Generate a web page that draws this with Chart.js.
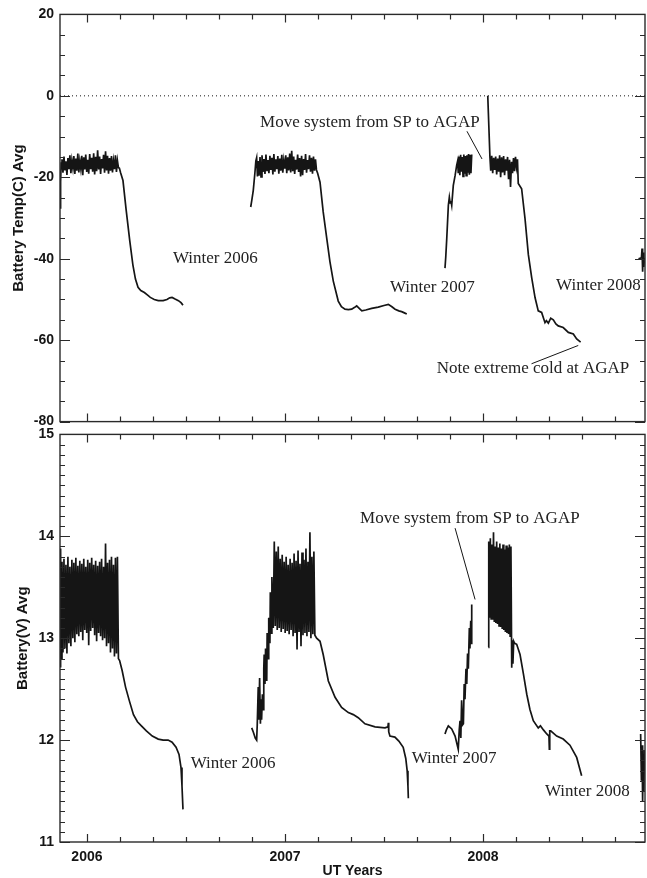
<!DOCTYPE html>
<html>
<head>
<meta charset="utf-8">
<script src="https://cdn.jsdelivr.net/npm/chart.js@4.4.1/dist/chart.umd.min.js"></script>
<style>
  body { margin: 0; background: #fff; }
  #wrap { position: relative; width: 647px; height: 878px; }
  #tempCanvas { position: absolute; left: 0; top: 0; }
  #voltCanvas { position: absolute; left: 0; top: 420px; }
</style>
</head>
<body>
<div id="wrap">
  <canvas id="tempCanvas" width="647" height="436"></canvas>
  <canvas id="voltCanvas" width="647" height="458"></canvas>
</div>
<script>
// x axis range in decimal UT years
const xMin = 2005.864;
const xMax = 2008.818;
const yearTicks = [2006, 2007, 2008];

// Battery temperature (C), one array per season, [year, value]
const tempSeason2006 = [
  [2005.864,-27.5],[2005.867,-21.0],[2005.870,-16.5],
  [2005.874,-15.6],[2005.879,-18.9],[2005.884,-14.9],[2005.889,-18.3],[2005.894,-16.1],[2005.899,-19.4],
  [2005.904,-15.3],[2005.909,-18.0],[2005.914,-14.6],[2005.919,-19.0],[2005.924,-15.9],[2005.929,-17.7],
  [2005.934,-14.8],[2005.939,-19.2],[2005.944,-15.4],[2005.949,-18.4],[2005.954,-14.2],[2005.959,-18.8],
  [2005.964,-16.0],[2005.969,-17.9],[2005.974,-14.7],[2005.979,-19.5],[2005.984,-15.1],[2005.989,-18.1],
  [2005.994,-14.4],[2005.999,-18.7],[2006.004,-15.7],[2006.009,-19.1],[2006.014,-14.3],[2006.019,-18.0],
  [2006.024,-15.2],[2006.029,-18.6],[2006.034,-14.1],[2006.039,-19.3],[2006.044,-15.0],[2006.049,-18.5],
  [2006.054,-13.4],[2006.059,-18.1],[2006.064,-14.9],[2006.069,-19.2],[2006.074,-15.5],[2006.079,-17.8],
  [2006.084,-14.5],[2006.089,-18.9],[2006.094,-13.6],[2006.099,-18.3],[2006.104,-14.7],[2006.109,-19.1],
  [2006.114,-15.3],[2006.119,-18.4],[2006.124,-14.8],[2006.129,-18.8],[2006.134,-16.0],[2006.139,-18.0],
  [2006.144,-14.6],[2006.149,-18.7],[2006.154,-15.9],[2006.159,-17.6],
  [2006.164,-17.8],[2006.170,-18.9],[2006.182,-20.8],[2006.198,-28.0],[2006.216,-35.5],[2006.232,-41.5],
  [2006.245,-45.0],[2006.258,-47.0],[2006.272,-47.8],[2006.290,-48.3],[2006.305,-48.9],[2006.320,-49.5],
  [2006.340,-50.0],[2006.360,-50.3],[2006.385,-50.3],[2006.404,-50.0],[2006.418,-49.6],[2006.430,-49.5],
  [2006.445,-49.9],[2006.462,-50.3],[2006.475,-50.8],[2006.485,-51.4]
];
const tempSeason2007 = [
  [2006.827,-27.3],[2006.833,-25.5],[2006.840,-23.2],[2006.848,-19.0],[2006.853,-16.0],[2006.857,-15.2],
  [2006.861,-19.8],[2006.865,-16.0],
  [2006.869,-19.6],[2006.874,-15.0],[2006.879,-19.9],[2006.884,-14.6],[2006.889,-18.7],[2006.894,-15.5],
  [2006.899,-19.2],[2006.904,-14.4],[2006.909,-18.5],[2006.914,-15.8],[2006.919,-19.0],[2006.924,-14.7],
  [2006.929,-18.2],[2006.934,-15.2],[2006.939,-19.3],[2006.944,-14.3],[2006.949,-18.6],[2006.954,-15.6],
  [2006.959,-18.0],[2006.964,-14.8],[2006.969,-19.1],[2006.974,-15.4],[2006.979,-18.4],[2006.984,-14.5],
  [2006.989,-18.9],[2006.994,-15.9],[2006.999,-17.9],[2007.004,-14.6],[2007.009,-19.0],[2007.014,-15.1],
  [2007.019,-18.3],[2007.024,-14.2],[2007.029,-18.8],[2007.034,-13.5],[2007.039,-18.5],[2007.044,-14.9],
  [2007.049,-19.2],[2007.054,-15.7],[2007.059,-18.1],[2007.064,-14.4],[2007.069,-18.7],[2007.074,-15.3],
  [2007.079,-19.8],[2007.084,-14.7],[2007.089,-19.5],[2007.094,-15.5],[2007.099,-18.2],[2007.104,-14.3],
  [2007.109,-18.9],[2007.114,-15.8],[2007.119,-18.0],[2007.124,-14.6],[2007.129,-18.6],[2007.134,-15.2],
  [2007.139,-19.1],[2007.144,-14.9],[2007.149,-18.4],[2007.154,-15.6],[2007.159,-18.2],
  [2007.165,-19.0],[2007.177,-21.2],[2007.193,-28.5],[2007.211,-35.0],[2007.227,-40.7],[2007.244,-45.5],
  [2007.269,-50.4],[2007.285,-51.8],[2007.303,-52.4],[2007.320,-52.5],[2007.337,-52.4],[2007.350,-52.0],
  [2007.362,-51.6],[2007.375,-52.2],[2007.388,-52.8],[2007.408,-52.6],[2007.438,-52.2],[2007.471,-51.9],
  [2007.500,-51.5],[2007.522,-51.2],[2007.540,-51.8],[2007.556,-52.4],[2007.575,-52.8],[2007.589,-53.0],
  [2007.603,-53.3],[2007.615,-53.6]
];
// 2008 season at SP, before the move
const tempSeason2008SP = [
  [2007.808,-42.3],[2007.812,-39.5],[2007.817,-35.0],[2007.825,-26.9],[2007.830,-24.9],[2007.834,-26.3],
  [2007.838,-25.8],[2007.842,-26.9],[2007.850,-22.0],[2007.859,-19.6],[2007.867,-17.1],[2007.872,-16.0],
  [2007.875,-19.0],[2007.879,-14.9],[2007.883,-19.5],[2007.887,-14.5],[2007.891,-18.6],[2007.895,-15.0],
  [2007.899,-19.8],[2007.903,-14.4],[2007.907,-19.1],[2007.911,-14.8],[2007.915,-19.6],[2007.919,-14.6],
  [2007.923,-18.9],[2007.927,-14.3],[2007.931,-19.4],[2007.935,-14.5],[2007.939,-19.0],[2007.943,-14.4]
];
// 2008 season at AGAP, after the move
const tempSeason2008AGAP = [
  [2008.024,0.0],[2008.035,-15.0],
  [2008.039,-18.4],[2008.044,-14.7],[2008.049,-19.0],[2008.054,-15.2],[2008.059,-18.2],[2008.064,-14.9],
  [2008.069,-19.3],[2008.074,-15.4],[2008.079,-18.6],[2008.084,-14.6],[2008.089,-20.0],[2008.094,-15.1],
  [2008.099,-18.8],[2008.104,-14.8],[2008.109,-19.5],[2008.114,-15.6],[2008.119,-18.4],[2008.124,-15.0],
  [2008.129,-20.5],[2008.134,-15.7],[2008.139,-22.4],[2008.144,-16.2],[2008.149,-19.0],[2008.154,-15.3],
  [2008.159,-18.5],[2008.164,-15.0],[2008.169,-17.5],[2008.174,-15.6],
  [2008.178,-21.5],[2008.195,-22.8],[2008.212,-30.1],[2008.229,-39.0],[2008.246,-44.7],[2008.263,-49.6],
  [2008.279,-52.8],[2008.296,-53.2],[2008.313,-55.7],[2008.320,-55.2],[2008.330,-55.8],[2008.342,-54.6],
  [2008.355,-55.0],[2008.368,-56.0],[2008.380,-56.5],[2008.405,-56.9],[2008.431,-58.1],[2008.456,-58.5],
  [2008.473,-59.7],[2008.493,-60.5]
];
const tempSeason2009 = [
  [2008.785,-40.0],[2008.800,-39.8],[2008.803,-37.5],[2008.806,-43.2],[2008.809,-38.5],[2008.812,-42.0],
  [2008.815,-40.0],[2008.818,-40.3]
];

// Battery voltage (V), [year, value]
const voltSeason2006 = [
  [2005.864,12.72],[2005.867,13.88],[2005.870,12.80],[2005.874,13.75],[2005.879,12.86],[2005.884,13.78],
  [2005.889,12.90],[2005.894,13.72],[2005.899,12.85],[2005.904,13.80],[2005.909,12.95],[2005.914,13.70],
  [2005.919,12.92],[2005.924,13.77],[2005.929,13.00],[2005.934,13.74],[2005.939,12.96],[2005.944,13.79],
  [2005.949,13.04],[2005.954,13.71],[2005.959,13.02],[2005.964,13.76],[2005.969,13.06],[2005.974,13.73],
  [2005.979,12.98],[2005.984,13.78],[2005.989,13.08],[2005.994,13.70],[2005.999,13.05],[2006.004,13.77],
  [2006.009,12.93],[2006.014,13.74],[2006.019,13.07],[2006.024,13.79],[2006.029,13.10],[2006.034,13.72],
  [2006.039,13.03],[2006.044,13.76],[2006.049,12.97],[2006.054,13.71],[2006.059,13.05],[2006.064,13.75],
  [2006.069,13.02],[2006.074,13.78],[2006.079,12.98],[2006.084,13.70],[2006.089,13.00],[2006.094,13.93],
  [2006.099,12.92],[2006.104,13.74],[2006.109,12.95],[2006.114,13.77],[2006.119,12.86],[2006.124,13.80],
  [2006.129,12.90],[2006.134,13.72],[2006.139,12.82],[2006.144,13.79],[2006.149,12.85],[2006.154,13.80],
  [2006.159,12.80],
  [2006.165,12.78],[2006.178,12.68],[2006.195,12.52],[2006.215,12.38],[2006.235,12.25],[2006.255,12.18],
  [2006.275,12.14],[2006.300,12.09],[2006.330,12.04],[2006.360,12.01],[2006.385,12.00],[2006.410,12.00],
  [2006.430,11.98],[2006.450,11.93],[2006.465,11.86],[2006.475,11.73],[2006.480,11.55],[2006.485,11.32]
];
const voltSeason2007 = [
  [2006.832,12.12],[2006.840,12.08],[2006.850,12.02],[2006.857,12.00],[2006.860,12.15],[2006.865,12.52],
  [2006.868,12.20],[2006.872,12.61],[2006.876,12.16],[2006.879,12.40],[2006.882,12.20],[2006.886,12.45],
  [2006.890,12.30],[2006.893,12.70],[2006.895,12.84],[2006.899,12.55],[2006.902,12.90],[2006.904,12.85],
  [2006.908,12.58],[2006.910,13.05],[2006.912,13.00],[2006.916,12.80],[2006.918,13.20],[2006.920,13.10],
  [2006.924,12.95],[2006.926,13.45],[2006.928,13.30],[2006.932,13.05],[2006.934,13.60],[2006.936,13.45],
  [2006.941,13.10],[2006.946,13.95],[2006.951,13.12],[2006.956,13.85],[2006.961,13.08],[2006.966,13.90],
  [2006.971,13.10],[2006.976,13.78],[2006.981,13.06],[2006.986,13.82],[2006.991,13.09],[2006.996,13.75],
  [2007.001,13.05],[2007.006,13.80],[2007.011,13.07],[2007.016,13.72],[2007.021,13.04],[2007.026,13.78],
  [2007.031,13.08],[2007.036,13.74],[2007.041,13.02],[2007.046,13.83],[2007.051,13.05],[2007.056,13.76],
  [2007.061,12.89],[2007.066,13.86],[2007.071,13.06],[2007.076,13.73],[2007.081,12.92],[2007.086,13.84],
  [2007.091,13.03],[2007.096,13.77],[2007.101,13.05],[2007.106,13.88],[2007.111,13.02],[2007.116,13.75],
  [2007.121,13.06],[2007.126,14.04],[2007.131,13.00],[2007.136,13.80],[2007.141,13.04],[2007.146,13.85],
  [2007.151,13.03],
  [2007.160,13.00],[2007.177,12.97],[2007.193,12.84],[2007.219,12.58],[2007.253,12.42],[2007.286,12.32],
  [2007.320,12.27],[2007.345,12.25],[2007.370,12.22],[2007.404,12.16],[2007.455,12.13],[2007.505,12.12],
  [2007.520,12.13],[2007.522,12.17],[2007.524,12.08],[2007.530,12.04],[2007.555,12.03],[2007.575,11.99],
  [2007.597,11.93],[2007.610,11.82],[2007.617,11.70],[2007.621,11.55],[2007.623,11.43]
];
const voltSeason2008SP = [
  [2007.808,12.06],[2007.815,12.10],[2007.825,12.14],[2007.842,12.11],[2007.859,12.04],[2007.875,11.91],
  [2007.880,12.10],[2007.884,12.19],[2007.888,12.02],[2007.892,12.39],[2007.897,12.15],[2007.901,12.16],
  [2007.905,12.55],[2007.909,12.40],[2007.914,12.70],[2007.918,12.55],[2007.922,12.85],[2007.926,12.70],
  [2007.931,13.10],[2007.934,12.90],[2007.938,13.17],[2007.940,12.95],[2007.943,13.33]
];
const voltSeason2008AGAP = [
  [2008.027,12.91],[2008.029,13.95],
  [2008.033,13.20],[2008.037,13.98],[2008.041,13.19],[2008.045,13.92],[2008.049,13.18],[2008.053,14.04],
  [2008.057,13.16],[2008.061,13.90],[2008.065,13.15],[2008.069,13.95],[2008.073,13.14],[2008.077,13.89],
  [2008.081,13.12],[2008.085,13.93],[2008.089,13.11],[2008.093,13.88],[2008.097,13.09],[2008.101,13.92],
  [2008.105,13.08],[2008.109,13.87],[2008.113,13.06],[2008.117,13.91],[2008.121,13.05],[2008.125,13.89],
  [2008.129,13.04],[2008.133,13.92],[2008.137,13.02],[2008.141,13.90],[2008.145,12.71],
  [2008.148,12.98],[2008.151,12.75],[2008.155,12.97],[2008.160,12.95],[2008.170,12.94],[2008.187,12.84],
  [2008.204,12.65],[2008.221,12.45],[2008.237,12.30],[2008.254,12.19],[2008.279,12.12],[2008.290,12.14],
  [2008.305,12.10],[2008.322,12.06],[2008.333,12.04],[2008.335,11.91],[2008.337,12.09],[2008.342,12.09],
  [2008.372,12.04],[2008.405,12.01],[2008.439,11.95],[2008.473,11.83],[2008.498,11.65]
];
const voltSeason2009 = [
  [2008.796,12.06],[2008.800,11.60],[2008.803,11.95],[2008.806,11.40],[2008.809,11.85],[2008.812,11.50],
  [2008.815,11.90],[2008.818,11.75]
];

// annotations: text, left x (year), middle y (value)
const tempNoteText = ['Move system from SP to AGAP', 'Winter 2006', 'Winter 2007', 'Winter 2008', 'Note extreme cold at AGAP'];
const tempNoteX = [2006.874, 2006.434, 2007.530, 2008.369, 2007.766];
const tempNoteY = [-6.5, -39.9, -47.0, -46.5, -67.0];
const tempMoveLeader = [[2007.919,-8.7],[2007.995,-15.5]];
const tempColdLeader = [[2008.245,-65.8],[2008.481,-61.3]];

const voltNoteText = ['Move system from SP to AGAP', 'Winter 2006', 'Winter 2007', 'Winter 2008'];
const voltNoteX = [2007.379, 2006.524, 2007.640, 2008.313];
const voltNoteY = [14.17, 11.77, 11.82, 11.50];
const voltMoveLeader = [[2007.859,14.08],[2007.960,13.38]];

const ink = '#151515';
const labelFont = '"Liberation Sans", Arial, sans-serif';

function toXY(arr) {
  return arr.map(p => ({x: p[0], y: p[1]}));
}

function trace(arr, width) {
  return {
    data: toXY(arr),
    borderColor: ink,
    borderWidth: width || 1.7,
    pointRadius: 0,
    tension: 0,
    fill: false
  };
}

// frame + inward ticks on all four sides (IDL style)
const axisFrame = {
  id: 'axisFrame',
  afterDatasetsDraw(chart, args, o) {
    const {ctx, chartArea: a, scales: {x, y}} = chart;
    ctx.save();
    ctx.strokeStyle = '#2a2a2a';
    ctx.lineWidth = 1.2;
    ctx.beginPath();
    const seg = (x1, y1, x2, y2) => { ctx.moveTo(x1, y1); ctx.lineTo(x2, y2); };
    for (let k = Math.ceil(x.min * 6 - 1e-9); k <= Math.floor(x.max * 6 + 1e-9); k++) {
      const px = Math.round(x.getPixelForValue(k / 6)) + 0.5;
      const len = k % 6 === 0 ? 8 : 5;
      seg(px, a.bottom, px, a.bottom - len);
      seg(px, a.top, px, a.top + len);
    }
    const n = Math.round(o.major / o.minor);
    for (let k = Math.ceil(y.min / o.minor - 1e-9); k <= Math.floor(y.max / o.minor + 1e-9); k++) {
      const py = Math.round(y.getPixelForValue(k * o.minor)) + 0.5;
      const len = k % n === 0 ? 10 : 5;
      seg(a.left, py, a.left + len, py);
      seg(a.right, py, a.right - len, py);
    }
    ctx.stroke();
    ctx.lineWidth = 1.4;
    ctx.strokeRect(a.left, a.top, a.right - a.left, a.bottom - a.top);
    ctx.restore();
  }
};

// serif annotations placed in data coordinates
const notes = {
  id: 'notes',
  afterDatasetsDraw(chart, args, o) {
    const {ctx, scales: {x, y}} = chart;
    ctx.save();
    ctx.font = '17px "Liberation Serif", "Times New Roman", serif';
    ctx.fillStyle = '#222';
    ctx.textBaseline = 'middle';
    ctx.textAlign = 'left';
    for (let i = 0; i < o.text.length; i++) {
      ctx.fillText(o.text[i], x.getPixelForValue(o.xs[i]), y.getPixelForValue(o.ys[i]));
    }
    ctx.restore();
  }
};

function yAxis(min, max, step, title, titlePad) {
  return {
    min: min, max: max,
    grid: {display: false, drawTicks: false},
    border: {display: false},
    ticks: {stepSize: step, color: ink, padding: 6, font: {family: labelFont, size: 14, weight: 'bold'}},
    title: {display: true, text: title, color: ink, padding: {top: titlePad, bottom: 0},
      font: {family: labelFont, size: 15, weight: 'bold'}},
    afterFit: s => { s.width = 60; }
  };
}

// top panel: temperature
new Chart(document.getElementById('tempCanvas'), {
  type: 'line',
  data: {
    datasets: [
      {data: toXY([[xMin, 0], [xMax, 0]]), borderColor: ink, borderWidth: 1, borderDash: [1, 3], pointRadius: 0},
      trace(tempSeason2006), trace(tempSeason2007), trace(tempSeason2008SP), trace(tempSeason2008AGAP),
      trace(tempSeason2009),
      trace(tempMoveLeader, 1), trace(tempColdLeader, 1)
    ]
  },
  options: {
    responsive: false,
    devicePixelRatio: 1,
    animation: false,
    layout: {padding: {top: 14, right: 2, bottom: 11, left: 0}},
    scales: {
      x: {type: 'linear', min: xMin, max: xMax, display: false},
      y: yAxis(-80, 20, 20, 'Battery Temp(C) Avg', 10)
    },
    plugins: {
      legend: {display: false},
      tooltip: {enabled: false},
      axisFrame: {major: 20, minor: 5},
      notes: {text: tempNoteText, xs: tempNoteX, ys: tempNoteY}
    }
  },
  plugins: [axisFrame, notes]
});

// bottom panel: voltage
new Chart(document.getElementById('voltCanvas'), {
  type: 'line',
  data: {
    datasets: [
      trace(voltSeason2006), trace(voltSeason2007), trace(voltSeason2008SP), trace(voltSeason2008AGAP),
      trace(voltSeason2009),
      trace(voltMoveLeader, 1)
    ]
  },
  options: {
    responsive: false,
    devicePixelRatio: 1,
    animation: false,
    layout: {padding: {top: 12, right: 2, bottom: 0, left: 0}},
    scales: {
      x: {
        type: 'linear', min: xMin, max: xMax,
        grid: {display: false, drawTicks: false},
        border: {display: false},
        afterBuildTicks: s => { s.ticks = yearTicks.map(v => ({value: v})); },
        ticks: {color: ink, padding: 7, autoSkip: false, maxRotation: 0,
          callback: v => String(v), font: {family: labelFont, size: 14, weight: 'bold'}},
        title: {display: true, text: 'UT Years', color: ink, padding: {top: 0, bottom: 0},
          font: {family: labelFont, size: 14, weight: 'bold', lineHeight: 1}},
        afterFit: s => { s.height = 36; }
      },
      y: yAxis(11, 15, 1, 'Battery(V) Avg', 14)
    },
    plugins: {
      legend: {display: false},
      tooltip: {enabled: false},
      axisFrame: {major: 1, minor: 0.1},
      notes: {text: voltNoteText, xs: voltNoteX, ys: voltNoteY}
    }
  },
  plugins: [axisFrame, notes]
});
</script>
</body>
</html>
